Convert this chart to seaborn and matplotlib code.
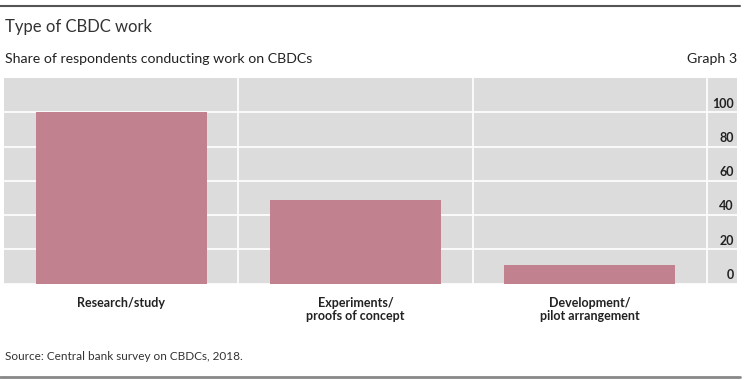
import numpy as np
import pandas as pd
import matplotlib.pyplot as plt
import seaborn as sns

# Type of CBDC work - share of respondents (Graph 3)

categories = ["Research/study", "Experiments/\nproofs of concept", "Development/\npilot arrangement"]
share = [100, 49, 11]
y_ticks = [0, 20, 40, 60, 80, 100]

sns.set_theme(style="white")
plt.rcParams["font.family"] = ["Lato", "DejaVu Sans"]

df = pd.DataFrame({"work": categories, "share": share})

fig = plt.figure(figsize=(7.45, 3.8), dpi=100)
ax = fig.add_axes([4 / 745, 1 - 283.5 / 380, 733 / 745, (283.5 - 78) / 380])
ax.set_facecolor("#dcdcdc")

sns.barplot(data=df, x="work", y="share", color="#c2818f", saturation=1,
            width=0.73, ax=ax, zorder=3, linewidth=0, edgecolor="none")

extra = 30 / 234.3
ax.set_xlim(-0.5, 2.5 + extra)
ax.set_ylim(0, 120)

# white grid
for y in y_ticks:
    ax.axhline(y, color="white", lw=1.2, zorder=1)
for x in [0.5, 1.5, 2.5]:
    ax.axvline(x, color="white", lw=1.2, zorder=1)

# y labels inside the plot on the right
ax.set_yticks([])
for y in y_ticks:
    ax.text(2.5 + 27 / 234.3, y + 1.5, str(y), ha="right", va="bottom",
            fontsize=9, fontweight="bold", color="#222222", zorder=4)

ax.set_xticks([0, 1, 2])
ax.set_xticklabels(categories, fontsize=9, fontweight="bold", color="#222222",
                   linespacing=1.1)
ax.tick_params(axis="x", length=0, pad=10)
ax.set_xticks([-0.5, 0.5, 1.5, 2.5], minor=True)
ax.tick_params(axis="x", which="minor", length=6, width=1, color="#555555",
               direction="out")
ax.set_xlabel("")
ax.set_ylabel("")
for s in ax.spines.values():
    s.set_visible(False)

# header and footer
fig.add_artist(plt.Line2D([0, 740 / 745], [1 - 6 / 380] * 2, color="#555555", lw=1.5))
fig.add_artist(plt.Line2D([0, 740 / 745], [1 - 377 / 380] * 2, color="#888888", lw=2))
fig.text(5 / 745, 1 - 27 / 380, "Type of CBDC work", fontsize=12, color="#333333",
         ha="left", va="center")
fig.text(5 / 745, 1 - 59 / 380, "Share of respondents conducting work on CBDCs",
         fontsize=10.2, color="#222222", ha="left", va="center")
fig.text(737 / 745, 1 - 59 / 380, "Graph 3", fontsize=10.2, color="#222222",
         ha="right", va="center")
fig.text(5 / 745, 1 - 357 / 380, "Source: Central bank survey on CBDCs, 2018.",
         fontsize=8.5, color="#333333", ha="left", va="center")

fig.savefig("out.png", dpi=100)
